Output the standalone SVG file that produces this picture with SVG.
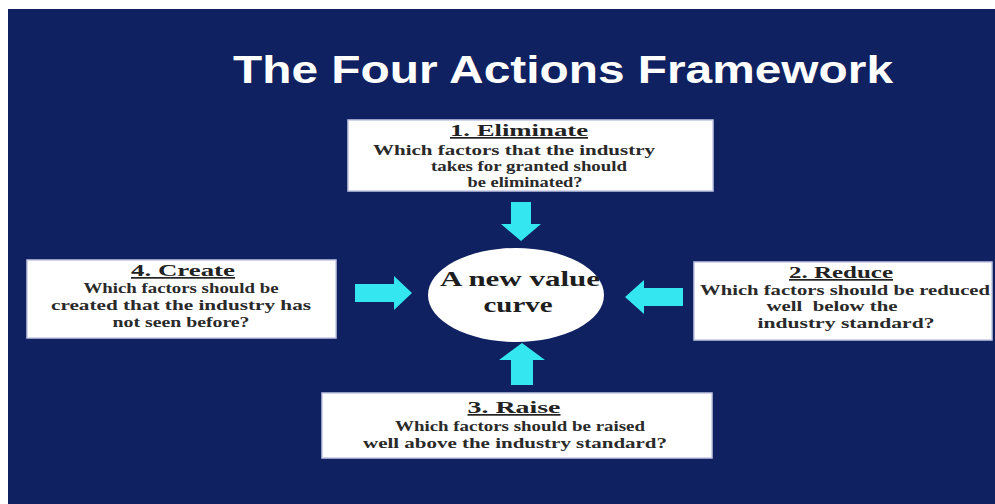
<svg xmlns="http://www.w3.org/2000/svg" width="995" height="504" viewBox="0 0 995 504">
<style>
.box{fill:#ffffff;stroke:#c4c8e4;stroke-width:1.5}
.hd{font-family:"Liberation Serif",serif;font-weight:bold;font-size:17px;fill:#222;text-decoration:underline}
.tx{font-family:"Liberation Serif",serif;font-weight:bold;font-size:14px;fill:#2a2a2a}
.ell{font-family:"Liberation Serif",serif;font-weight:bold;font-size:21px;fill:#1e1e1e}
.arr{fill:#33e6f0}
</style>
<rect x="0" y="0" width="995" height="504" fill="#ffffff"/>
<rect x="8" y="9" width="987" height="495" fill="#0f2160"/>
<text x="233" y="83" font-family="Liberation Sans, Arial, sans-serif" font-weight="bold" font-size="38" fill="#ffffff" textLength="660" lengthAdjust="spacingAndGlyphs">The Four Actions Framework</text>

<g id="connectors">
<polygon class="arr" points="511,202 531,202 531,224 541,224 521,241 501,224 511,224"/>
<polygon class="arr" points="511,385 533,385 533,360 545,360 522,343 499,360 511,360"/>
<polygon class="arr" points="355,284 394,284 394,276 412,293 394,310 394,302 355,302"/>
<polygon class="arr" points="683,288 644,288 644,280 625,297 644,314 644,306 683,306"/>
</g>

<g id="center">
<ellipse cx="516" cy="295" rx="88" ry="47" fill="#ffffff"/>
<text class="ell" x="520" y="286" text-anchor="middle" textLength="160" lengthAdjust="spacingAndGlyphs">A new value</text>
<text class="ell" x="518" y="312" text-anchor="middle" textLength="69" lengthAdjust="spacingAndGlyphs">curve</text>
</g>

<g id="eliminate">
<rect class="box" x="348" y="120" width="365" height="71"/>
<text class="hd" x="519" y="136" text-anchor="middle" textLength="138" lengthAdjust="spacingAndGlyphs">1. Eliminate</text>
<text class="tx" x="514" y="155" text-anchor="middle" textLength="282" lengthAdjust="spacingAndGlyphs">Which factors that the industry</text>
<text class="tx" x="529" y="171" text-anchor="middle" textLength="196" lengthAdjust="spacingAndGlyphs">takes for granted should</text>
<text class="tx" x="525" y="187" text-anchor="middle" textLength="115" lengthAdjust="spacingAndGlyphs">be eliminated?</text>
</g>

<g id="create">
<rect class="box" x="27" y="260" width="309" height="78"/>
<text class="hd" x="183" y="276" text-anchor="middle" textLength="104" lengthAdjust="spacingAndGlyphs">4. Create</text>
<text class="tx" x="181" y="293" text-anchor="middle" textLength="195" lengthAdjust="spacingAndGlyphs">Which factors should be</text>
<text class="tx" x="181" y="310" text-anchor="middle" textLength="260" lengthAdjust="spacingAndGlyphs">created that the industry has</text>
<text class="tx" x="181" y="327" text-anchor="middle" textLength="137" lengthAdjust="spacingAndGlyphs">not seen before?</text>
</g>

<g id="reduce">
<rect class="box" x="694" y="262" width="298" height="78"/>
<text class="hd" x="841" y="278" text-anchor="middle" textLength="104" lengthAdjust="spacingAndGlyphs">2. Reduce</text>
<text class="tx" x="845" y="295" text-anchor="middle" textLength="290" lengthAdjust="spacingAndGlyphs">Which factors should be reduced</text>
<text class="tx" x="832" y="311" text-anchor="middle" textLength="131" lengthAdjust="spacingAndGlyphs" xml:space="preserve">well  below the</text>
<text class="tx" x="846" y="328" text-anchor="middle" textLength="177" lengthAdjust="spacingAndGlyphs">industry standard?</text>
</g>

<g id="raise">
<rect class="box" x="322" y="393" width="390" height="65"/>
<text class="hd" x="514" y="413" text-anchor="middle" textLength="93" lengthAdjust="spacingAndGlyphs">3. Raise</text>
<text class="tx" x="520" y="431" text-anchor="middle" textLength="250" lengthAdjust="spacingAndGlyphs">Which factors should be raised</text>
<text class="tx" x="515" y="448" text-anchor="middle" textLength="304" lengthAdjust="spacingAndGlyphs">well above the industry standard?</text>
</g>
</svg>
